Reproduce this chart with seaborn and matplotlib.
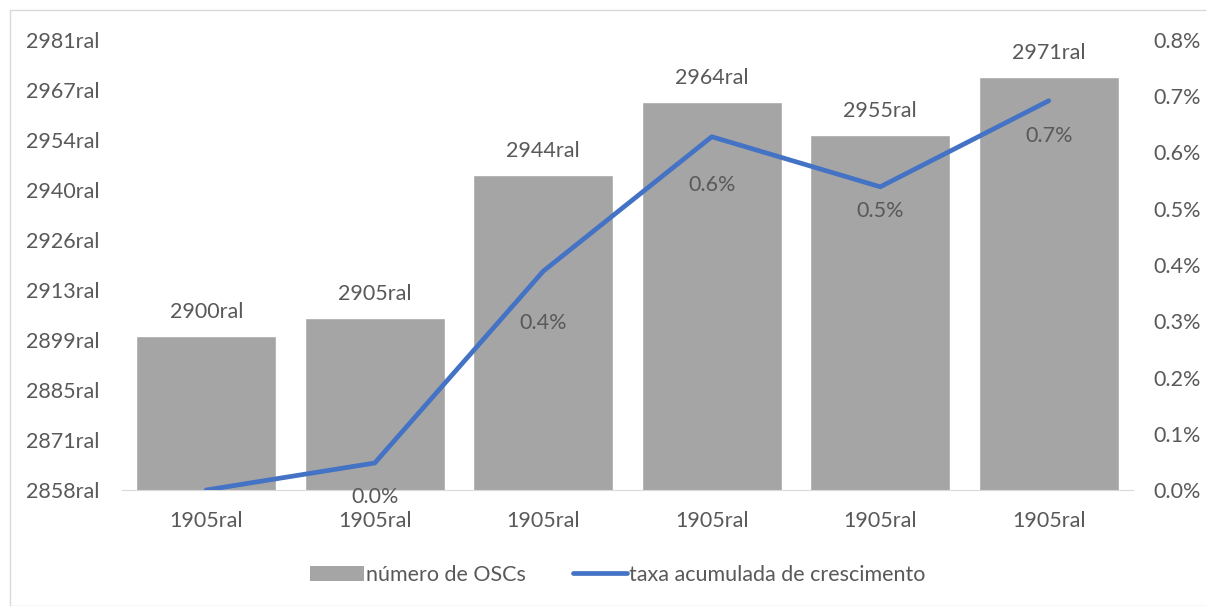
import numpy as np
import pandas as pd
import seaborn as sb
from matplotlib import pyplot as plt
from matplotlib.patches import Rectangle
from matplotlib.lines import Line2D
from matplotlib.patches import Patch

sb.set_style('white')
plt.rcParams['font.family'] = ['Lato', 'DejaVu Sans']
fs = 15.5

categories = ['1905ral', '1905ral', '1905ral', '1905ral', '1905ral', '1905ral']
num_oscs = [2900, 2905, 2944, 2964, 2955, 2971]
taxa = [0.0, 0.048, 0.389, 0.628, 0.539, 0.692]  # in %
taxa_labels = ['', '0.0%', '0.4%', '0.6%', '0.5%', '0.7%']
left_ticklabels = ['2858ral', '2871ral', '2885ral', '2899ral', '2913ral',
                   '2926ral', '2940ral', '2954ral', '2967ral', '2981ral']
right_ticklabels = ['0.0%', '0.1%', '0.2%', '0.3%', '0.4%', '0.5%', '0.6%', '0.7%', '0.8%']
label_offsets = [0, -34, -52, -48, -24, -35]  # px below the point

grey_txt = '#595959'
bar_col = '#A5A5A5'
line_col = '#4472C4'

df = pd.DataFrame({'pos': range(len(categories)), 'n': num_oscs, 'taxa': taxa})

fig = plt.figure(figsize=(12.06, 6.06), dpi=100)
fig.patches.append(Rectangle((10/1206, 0.0), 1.2, (606-10)/606, transform=fig.transFigure,
                             fill=False, edgecolor='#D9D9D9', linewidth=1))
ax = fig.add_axes([122/1206, 116/606, 1011/1206, 450/606])
sb.barplot(data=df, x='pos', y='n', color=bar_col, width=0.83, ax=ax, saturation=1)
ax.set_ylim(2858, 2981)
ax.set_xlim(-0.5, 5.5)
ax.set_yticks(np.linspace(2858, 2981, len(left_ticklabels)))
ax.set_yticklabels(left_ticklabels)
ax.set_xticks(range(len(categories)))
ax.set_xticklabels(categories)
ax.set_xlabel('')
ax.set_ylabel('')
for s in ['top', 'right', 'left']:
    ax.spines[s].set_visible(False)
ax.spines['bottom'].set_color('#D9D9D9')
ax.tick_params(axis='y', length=0, pad=16, colors=grey_txt, labelsize=fs)
ax.tick_params(axis='x', length=0, pad=15, colors=grey_txt, labelsize=fs)
for i, v in enumerate(num_oscs):
    ax.annotate('%dral' % v, (i, v), xytext=(0, 14), textcoords='offset pixels',
                ha='center', va='bottom', color=grey_txt, fontsize=fs)

ax2 = ax.twinx()
sb.lineplot(data=df, x='pos', y='taxa', color=line_col, linewidth=3.4, ax=ax2,
            solid_capstyle='round')
ax2.set_ylim(0, 0.8)
ax2.set_yticks(np.linspace(0, 0.8, len(right_ticklabels)))
ax2.set_yticklabels(right_ticklabels)
ax2.set_xlim(-0.5, 5.5)
ax2.set_xlabel('')
ax2.set_ylabel('')
for s in ['top', 'right', 'left', 'bottom']:
    ax2.spines[s].set_visible(False)
ax2.tick_params(axis='y', length=0, pad=14.5, colors=grey_txt, labelsize=fs)
for i, (v, lab) in enumerate(zip(taxa, taxa_labels)):
    if lab:
        ax2.annotate(lab, (i, v), xytext=(0, label_offsets[i]), textcoords='offset pixels',
                     ha='center', va='center', color=grey_txt, fontsize=fs)

handles = [Patch(facecolor=bar_col, edgecolor='none'),
           Line2D([0], [0], color=line_col, linewidth=3.4, solid_capstyle='round')]
fig.legend(handles, ['número de OSCs', 'taxa acumulada de crescimento'],
           loc='center', bbox_to_anchor=(618/1206, 1 - 575/606), ncol=2, frameon=False,
           fontsize=fs, labelcolor=grey_txt, handlelength=2.5, handletextpad=0.1,
           columnspacing=2.2, handleheight=0.7)

fig.savefig('out.png', dpi=100)
